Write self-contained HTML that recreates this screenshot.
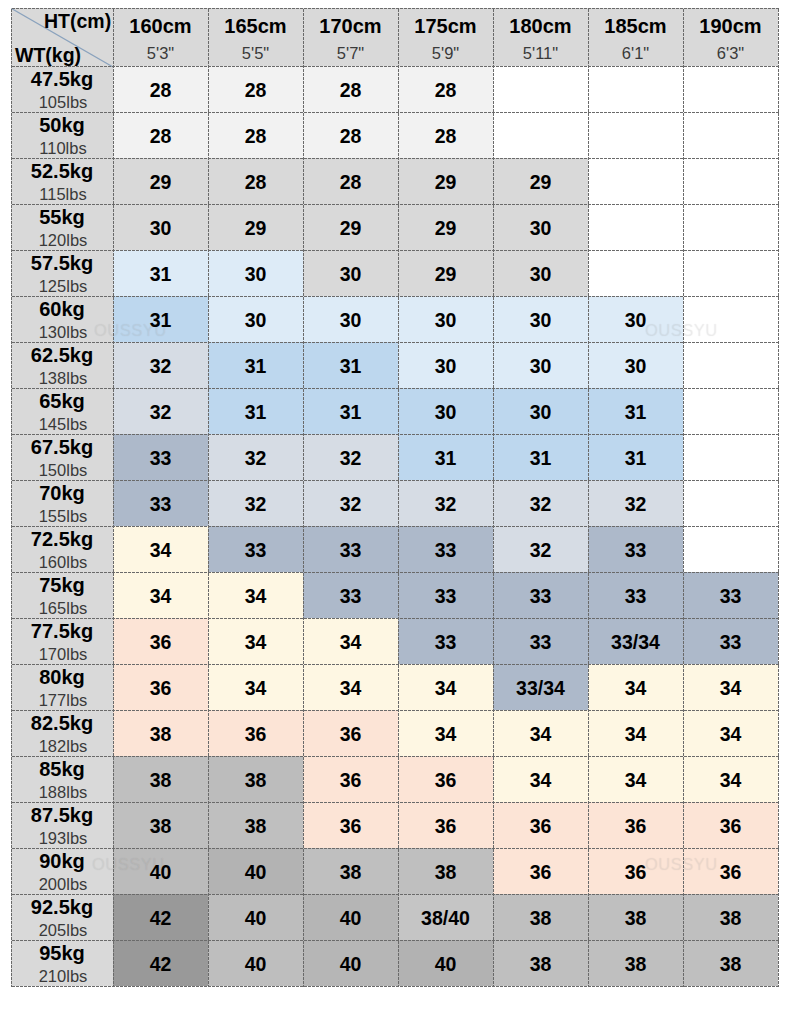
<!DOCTYPE html>
<html><head><meta charset="utf-8">
<style>
html,body{margin:0;padding:0;background:#fff;}
body{width:790px;height:1009px;position:relative;overflow:hidden;font-family:"Liberation Sans",sans-serif;color:#000;}
.c{position:absolute;}
.t{position:absolute;left:0;right:0;text-align:center;white-space:nowrap;}
.n{font-weight:bold;font-size:19.5px;}
.hd{font-weight:bold;font-size:20px;}
.sb{font-size:16.5px;color:#3a3a3a;}
.h{position:absolute;height:1px;background-image:linear-gradient(to right,#6a6a6a 3px,transparent 3px);background-size:4px 1px;background-repeat:repeat-x;}
.v{position:absolute;width:1px;background-image:linear-gradient(to bottom,#6a6a6a 3px,transparent 3px);background-size:1px 4px;background-repeat:repeat-y;}
.wm{position:absolute;font-size:16.5px;color:rgba(255,255,255,0.12);letter-spacing:0.5px;text-shadow:0 0 1px rgba(0,0,0,0.10);}
</style></head><body>

<div class="c" style="left:11px;top:8px;width:767px;height:58px;background:#d9d9d9"></div>
<div class="c" style="left:11px;top:8px;width:102px;height:978px;background:#d9d9d9"></div>
<div class="c" style="left:113px;top:66px;width:95px;height:46px;background:#f2f2f2"></div>
<div class="c" style="left:208px;top:66px;width:95px;height:46px;background:#f2f2f2"></div>
<div class="c" style="left:303px;top:66px;width:95px;height:46px;background:#f2f2f2"></div>
<div class="c" style="left:398px;top:66px;width:95px;height:46px;background:#f2f2f2"></div>
<div class="c" style="left:493px;top:66px;width:95px;height:46px;background:#ffffff"></div>
<div class="c" style="left:588px;top:66px;width:95px;height:46px;background:#ffffff"></div>
<div class="c" style="left:683px;top:66px;width:95px;height:46px;background:#ffffff"></div>
<div class="c" style="left:113px;top:112px;width:95px;height:46px;background:#f2f2f2"></div>
<div class="c" style="left:208px;top:112px;width:95px;height:46px;background:#f2f2f2"></div>
<div class="c" style="left:303px;top:112px;width:95px;height:46px;background:#f2f2f2"></div>
<div class="c" style="left:398px;top:112px;width:95px;height:46px;background:#f2f2f2"></div>
<div class="c" style="left:493px;top:112px;width:95px;height:46px;background:#ffffff"></div>
<div class="c" style="left:588px;top:112px;width:95px;height:46px;background:#ffffff"></div>
<div class="c" style="left:683px;top:112px;width:95px;height:46px;background:#ffffff"></div>
<div class="c" style="left:113px;top:158px;width:95px;height:46px;background:#d9d9d9"></div>
<div class="c" style="left:208px;top:158px;width:95px;height:46px;background:#d9d9d9"></div>
<div class="c" style="left:303px;top:158px;width:95px;height:46px;background:#d9d9d9"></div>
<div class="c" style="left:398px;top:158px;width:95px;height:46px;background:#d9d9d9"></div>
<div class="c" style="left:493px;top:158px;width:95px;height:46px;background:#d9d9d9"></div>
<div class="c" style="left:588px;top:158px;width:95px;height:46px;background:#ffffff"></div>
<div class="c" style="left:683px;top:158px;width:95px;height:46px;background:#ffffff"></div>
<div class="c" style="left:113px;top:204px;width:95px;height:46px;background:#d9d9d9"></div>
<div class="c" style="left:208px;top:204px;width:95px;height:46px;background:#d9d9d9"></div>
<div class="c" style="left:303px;top:204px;width:95px;height:46px;background:#d9d9d9"></div>
<div class="c" style="left:398px;top:204px;width:95px;height:46px;background:#d9d9d9"></div>
<div class="c" style="left:493px;top:204px;width:95px;height:46px;background:#d9d9d9"></div>
<div class="c" style="left:588px;top:204px;width:95px;height:46px;background:#ffffff"></div>
<div class="c" style="left:683px;top:204px;width:95px;height:46px;background:#ffffff"></div>
<div class="c" style="left:113px;top:250px;width:95px;height:46px;background:#ddebf7"></div>
<div class="c" style="left:208px;top:250px;width:95px;height:46px;background:#ddebf7"></div>
<div class="c" style="left:303px;top:250px;width:95px;height:46px;background:#d9d9d9"></div>
<div class="c" style="left:398px;top:250px;width:95px;height:46px;background:#d9d9d9"></div>
<div class="c" style="left:493px;top:250px;width:95px;height:46px;background:#d9d9d9"></div>
<div class="c" style="left:588px;top:250px;width:95px;height:46px;background:#ffffff"></div>
<div class="c" style="left:683px;top:250px;width:95px;height:46px;background:#ffffff"></div>
<div class="c" style="left:113px;top:296px;width:95px;height:46px;background:#bdd7ee"></div>
<div class="c" style="left:208px;top:296px;width:95px;height:46px;background:#ddebf7"></div>
<div class="c" style="left:303px;top:296px;width:95px;height:46px;background:#ddebf7"></div>
<div class="c" style="left:398px;top:296px;width:95px;height:46px;background:#ddebf7"></div>
<div class="c" style="left:493px;top:296px;width:95px;height:46px;background:#ddebf7"></div>
<div class="c" style="left:588px;top:296px;width:95px;height:46px;background:#ddebf7"></div>
<div class="c" style="left:683px;top:296px;width:95px;height:46px;background:#ffffff"></div>
<div class="c" style="left:113px;top:342px;width:95px;height:46px;background:#d6dce4"></div>
<div class="c" style="left:208px;top:342px;width:95px;height:46px;background:#bdd7ee"></div>
<div class="c" style="left:303px;top:342px;width:95px;height:46px;background:#bdd7ee"></div>
<div class="c" style="left:398px;top:342px;width:95px;height:46px;background:#ddebf7"></div>
<div class="c" style="left:493px;top:342px;width:95px;height:46px;background:#ddebf7"></div>
<div class="c" style="left:588px;top:342px;width:95px;height:46px;background:#ddebf7"></div>
<div class="c" style="left:683px;top:342px;width:95px;height:46px;background:#ffffff"></div>
<div class="c" style="left:113px;top:388px;width:95px;height:46px;background:#d6dce4"></div>
<div class="c" style="left:208px;top:388px;width:95px;height:46px;background:#bdd7ee"></div>
<div class="c" style="left:303px;top:388px;width:95px;height:46px;background:#bdd7ee"></div>
<div class="c" style="left:398px;top:388px;width:95px;height:46px;background:#bdd7ee"></div>
<div class="c" style="left:493px;top:388px;width:95px;height:46px;background:#bdd7ee"></div>
<div class="c" style="left:588px;top:388px;width:95px;height:46px;background:#bdd7ee"></div>
<div class="c" style="left:683px;top:388px;width:95px;height:46px;background:#ffffff"></div>
<div class="c" style="left:113px;top:434px;width:95px;height:46px;background:#adb9ca"></div>
<div class="c" style="left:208px;top:434px;width:95px;height:46px;background:#d6dce4"></div>
<div class="c" style="left:303px;top:434px;width:95px;height:46px;background:#d6dce4"></div>
<div class="c" style="left:398px;top:434px;width:95px;height:46px;background:#bdd7ee"></div>
<div class="c" style="left:493px;top:434px;width:95px;height:46px;background:#bdd7ee"></div>
<div class="c" style="left:588px;top:434px;width:95px;height:46px;background:#bdd7ee"></div>
<div class="c" style="left:683px;top:434px;width:95px;height:46px;background:#ffffff"></div>
<div class="c" style="left:113px;top:480px;width:95px;height:46px;background:#adb9ca"></div>
<div class="c" style="left:208px;top:480px;width:95px;height:46px;background:#d6dce4"></div>
<div class="c" style="left:303px;top:480px;width:95px;height:46px;background:#d6dce4"></div>
<div class="c" style="left:398px;top:480px;width:95px;height:46px;background:#d6dce4"></div>
<div class="c" style="left:493px;top:480px;width:95px;height:46px;background:#d6dce4"></div>
<div class="c" style="left:588px;top:480px;width:95px;height:46px;background:#d6dce4"></div>
<div class="c" style="left:683px;top:480px;width:95px;height:46px;background:#ffffff"></div>
<div class="c" style="left:113px;top:526px;width:95px;height:46px;background:#fef7e3"></div>
<div class="c" style="left:208px;top:526px;width:95px;height:46px;background:#adb9ca"></div>
<div class="c" style="left:303px;top:526px;width:95px;height:46px;background:#adb9ca"></div>
<div class="c" style="left:398px;top:526px;width:95px;height:46px;background:#adb9ca"></div>
<div class="c" style="left:493px;top:526px;width:95px;height:46px;background:#d6dce4"></div>
<div class="c" style="left:588px;top:526px;width:95px;height:46px;background:#adb9ca"></div>
<div class="c" style="left:683px;top:526px;width:95px;height:46px;background:#ffffff"></div>
<div class="c" style="left:113px;top:572px;width:95px;height:46px;background:#fef7e3"></div>
<div class="c" style="left:208px;top:572px;width:95px;height:46px;background:#fef7e3"></div>
<div class="c" style="left:303px;top:572px;width:95px;height:46px;background:#adb9ca"></div>
<div class="c" style="left:398px;top:572px;width:95px;height:46px;background:#adb9ca"></div>
<div class="c" style="left:493px;top:572px;width:95px;height:46px;background:#adb9ca"></div>
<div class="c" style="left:588px;top:572px;width:95px;height:46px;background:#adb9ca"></div>
<div class="c" style="left:683px;top:572px;width:95px;height:46px;background:#adb9ca"></div>
<div class="c" style="left:113px;top:618px;width:95px;height:46px;background:#fce4d6"></div>
<div class="c" style="left:208px;top:618px;width:95px;height:46px;background:#fef7e3"></div>
<div class="c" style="left:303px;top:618px;width:95px;height:46px;background:#fef7e3"></div>
<div class="c" style="left:398px;top:618px;width:95px;height:46px;background:#adb9ca"></div>
<div class="c" style="left:493px;top:618px;width:95px;height:46px;background:#adb9ca"></div>
<div class="c" style="left:588px;top:618px;width:95px;height:46px;background:#adb9ca"></div>
<div class="c" style="left:683px;top:618px;width:95px;height:46px;background:#adb9ca"></div>
<div class="c" style="left:113px;top:664px;width:95px;height:46px;background:#fce4d6"></div>
<div class="c" style="left:208px;top:664px;width:95px;height:46px;background:#fef7e3"></div>
<div class="c" style="left:303px;top:664px;width:95px;height:46px;background:#fef7e3"></div>
<div class="c" style="left:398px;top:664px;width:95px;height:46px;background:#fef7e3"></div>
<div class="c" style="left:493px;top:664px;width:95px;height:46px;background:#adb9ca"></div>
<div class="c" style="left:588px;top:664px;width:95px;height:46px;background:#fef7e3"></div>
<div class="c" style="left:683px;top:664px;width:95px;height:46px;background:#fef7e3"></div>
<div class="c" style="left:113px;top:710px;width:95px;height:46px;background:#fce4d6"></div>
<div class="c" style="left:208px;top:710px;width:95px;height:46px;background:#fce4d6"></div>
<div class="c" style="left:303px;top:710px;width:95px;height:46px;background:#fce4d6"></div>
<div class="c" style="left:398px;top:710px;width:95px;height:46px;background:#fef7e3"></div>
<div class="c" style="left:493px;top:710px;width:95px;height:46px;background:#fef7e3"></div>
<div class="c" style="left:588px;top:710px;width:95px;height:46px;background:#fef7e3"></div>
<div class="c" style="left:683px;top:710px;width:95px;height:46px;background:#fef7e3"></div>
<div class="c" style="left:113px;top:756px;width:95px;height:46px;background:#bfbfbf"></div>
<div class="c" style="left:208px;top:756px;width:95px;height:46px;background:#bcbcbc"></div>
<div class="c" style="left:303px;top:756px;width:95px;height:46px;background:#fce4d6"></div>
<div class="c" style="left:398px;top:756px;width:95px;height:46px;background:#fce4d6"></div>
<div class="c" style="left:493px;top:756px;width:95px;height:46px;background:#fef7e3"></div>
<div class="c" style="left:588px;top:756px;width:95px;height:46px;background:#fef7e3"></div>
<div class="c" style="left:683px;top:756px;width:95px;height:46px;background:#fef7e3"></div>
<div class="c" style="left:113px;top:802px;width:95px;height:46px;background:#bfbfbf"></div>
<div class="c" style="left:208px;top:802px;width:95px;height:46px;background:#bfbfbf"></div>
<div class="c" style="left:303px;top:802px;width:95px;height:46px;background:#fce4d6"></div>
<div class="c" style="left:398px;top:802px;width:95px;height:46px;background:#fce4d6"></div>
<div class="c" style="left:493px;top:802px;width:95px;height:46px;background:#fce4d6"></div>
<div class="c" style="left:588px;top:802px;width:95px;height:46px;background:#fce4d6"></div>
<div class="c" style="left:683px;top:802px;width:95px;height:46px;background:#fce4d6"></div>
<div class="c" style="left:113px;top:848px;width:95px;height:46px;background:#bbbbbb"></div>
<div class="c" style="left:208px;top:848px;width:95px;height:46px;background:#b3b3b3"></div>
<div class="c" style="left:303px;top:848px;width:95px;height:46px;background:#bfbfbf"></div>
<div class="c" style="left:398px;top:848px;width:95px;height:46px;background:#bfbfbf"></div>
<div class="c" style="left:493px;top:848px;width:95px;height:46px;background:#fce4d6"></div>
<div class="c" style="left:588px;top:848px;width:95px;height:46px;background:#fce4d6"></div>
<div class="c" style="left:683px;top:848px;width:95px;height:46px;background:#fce4d6"></div>
<div class="c" style="left:113px;top:894px;width:95px;height:46px;background:#999999"></div>
<div class="c" style="left:208px;top:894px;width:95px;height:46px;background:#bdbdbd"></div>
<div class="c" style="left:303px;top:894px;width:95px;height:46px;background:#b5b5b5"></div>
<div class="c" style="left:398px;top:894px;width:95px;height:46px;background:#c5c5c5"></div>
<div class="c" style="left:493px;top:894px;width:95px;height:46px;background:#bfbfbf"></div>
<div class="c" style="left:588px;top:894px;width:95px;height:46px;background:#bfbfbf"></div>
<div class="c" style="left:683px;top:894px;width:95px;height:46px;background:#bfbfbf"></div>
<div class="c" style="left:113px;top:940px;width:95px;height:46px;background:#999999"></div>
<div class="c" style="left:208px;top:940px;width:95px;height:46px;background:#bebebe"></div>
<div class="c" style="left:303px;top:940px;width:95px;height:46px;background:#b6b6b6"></div>
<div class="c" style="left:398px;top:940px;width:95px;height:46px;background:#b2b2b2"></div>
<div class="c" style="left:493px;top:940px;width:95px;height:46px;background:#bfbfbf"></div>
<div class="c" style="left:588px;top:940px;width:95px;height:46px;background:#bfbfbf"></div>
<div class="c" style="left:683px;top:940px;width:95px;height:46px;background:#bfbfbf"></div>
<svg class="c" style="left:0;top:0" width="790" height="1009"><line x1="11.5" y1="8.5" x2="113" y2="67" stroke="#8aa2bd" stroke-width="1.4"/></svg>
<div class="c" style="left:113px;top:8px;width:95px;height:58px"><div class="t hd" style="top:7px">160cm</div><div class="t sb" style="top:36px">5'3&quot;</div></div>
<div class="c" style="left:208px;top:8px;width:95px;height:58px"><div class="t hd" style="top:7px">165cm</div><div class="t sb" style="top:36px">5'5&quot;</div></div>
<div class="c" style="left:303px;top:8px;width:95px;height:58px"><div class="t hd" style="top:7px">170cm</div><div class="t sb" style="top:36px">5'7&quot;</div></div>
<div class="c" style="left:398px;top:8px;width:95px;height:58px"><div class="t hd" style="top:7px">175cm</div><div class="t sb" style="top:36px">5'9&quot;</div></div>
<div class="c" style="left:493px;top:8px;width:95px;height:58px"><div class="t hd" style="top:7px">180cm</div><div class="t sb" style="top:36px">5'11&quot;</div></div>
<div class="c" style="left:588px;top:8px;width:95px;height:58px"><div class="t hd" style="top:7px">185cm</div><div class="t sb" style="top:36px">6'1&quot;</div></div>
<div class="c" style="left:683px;top:8px;width:95px;height:58px"><div class="t hd" style="top:7px">190cm</div><div class="t sb" style="top:36px">6'3&quot;</div></div>
<div class="c hd" style="left:44px;top:10px;font-size:19.5px">HT(cm)</div>
<div class="c hd" style="left:15px;top:44px;font-size:19.5px">WT(kg)</div>
<div class="wm" style="left:94px;top:321px">OUSSYU</div>
<div class="wm" style="left:645px;top:321px">OUSSYU</div>
<div class="wm" style="left:92px;top:855px">OUSSYU</div>
<div class="wm" style="left:645px;top:855px">OUSSYU</div>
<div class="c" style="left:11px;top:66px;width:102px;height:46px"><div class="t hd" style="top:2px">47.5kg</div><div class="t sb" style="top:27px;padding-left:2px">105lbs</div></div>
<div class="c" style="left:113px;top:66px;width:95px;height:46px"><div class="t n" style="top:13px">28</div></div>
<div class="c" style="left:208px;top:66px;width:95px;height:46px"><div class="t n" style="top:13px">28</div></div>
<div class="c" style="left:303px;top:66px;width:95px;height:46px"><div class="t n" style="top:13px">28</div></div>
<div class="c" style="left:398px;top:66px;width:95px;height:46px"><div class="t n" style="top:13px">28</div></div>
<div class="c" style="left:11px;top:112px;width:102px;height:46px"><div class="t hd" style="top:2px">50kg</div><div class="t sb" style="top:27px;padding-left:2px">110lbs</div></div>
<div class="c" style="left:113px;top:112px;width:95px;height:46px"><div class="t n" style="top:13px">28</div></div>
<div class="c" style="left:208px;top:112px;width:95px;height:46px"><div class="t n" style="top:13px">28</div></div>
<div class="c" style="left:303px;top:112px;width:95px;height:46px"><div class="t n" style="top:13px">28</div></div>
<div class="c" style="left:398px;top:112px;width:95px;height:46px"><div class="t n" style="top:13px">28</div></div>
<div class="c" style="left:11px;top:158px;width:102px;height:46px"><div class="t hd" style="top:2px">52.5kg</div><div class="t sb" style="top:27px;padding-left:2px">115lbs</div></div>
<div class="c" style="left:113px;top:158px;width:95px;height:46px"><div class="t n" style="top:13px">29</div></div>
<div class="c" style="left:208px;top:158px;width:95px;height:46px"><div class="t n" style="top:13px">28</div></div>
<div class="c" style="left:303px;top:158px;width:95px;height:46px"><div class="t n" style="top:13px">28</div></div>
<div class="c" style="left:398px;top:158px;width:95px;height:46px"><div class="t n" style="top:13px">29</div></div>
<div class="c" style="left:493px;top:158px;width:95px;height:46px"><div class="t n" style="top:13px">29</div></div>
<div class="c" style="left:11px;top:204px;width:102px;height:46px"><div class="t hd" style="top:2px">55kg</div><div class="t sb" style="top:27px;padding-left:2px">120lbs</div></div>
<div class="c" style="left:113px;top:204px;width:95px;height:46px"><div class="t n" style="top:13px">30</div></div>
<div class="c" style="left:208px;top:204px;width:95px;height:46px"><div class="t n" style="top:13px">29</div></div>
<div class="c" style="left:303px;top:204px;width:95px;height:46px"><div class="t n" style="top:13px">29</div></div>
<div class="c" style="left:398px;top:204px;width:95px;height:46px"><div class="t n" style="top:13px">29</div></div>
<div class="c" style="left:493px;top:204px;width:95px;height:46px"><div class="t n" style="top:13px">30</div></div>
<div class="c" style="left:11px;top:250px;width:102px;height:46px"><div class="t hd" style="top:2px">57.5kg</div><div class="t sb" style="top:27px;padding-left:2px">125lbs</div></div>
<div class="c" style="left:113px;top:250px;width:95px;height:46px"><div class="t n" style="top:13px">31</div></div>
<div class="c" style="left:208px;top:250px;width:95px;height:46px"><div class="t n" style="top:13px">30</div></div>
<div class="c" style="left:303px;top:250px;width:95px;height:46px"><div class="t n" style="top:13px">30</div></div>
<div class="c" style="left:398px;top:250px;width:95px;height:46px"><div class="t n" style="top:13px">29</div></div>
<div class="c" style="left:493px;top:250px;width:95px;height:46px"><div class="t n" style="top:13px">30</div></div>
<div class="c" style="left:11px;top:296px;width:102px;height:46px"><div class="t hd" style="top:2px">60kg</div><div class="t sb" style="top:27px;padding-left:2px">130lbs</div></div>
<div class="c" style="left:113px;top:296px;width:95px;height:46px"><div class="t n" style="top:13px">31</div></div>
<div class="c" style="left:208px;top:296px;width:95px;height:46px"><div class="t n" style="top:13px">30</div></div>
<div class="c" style="left:303px;top:296px;width:95px;height:46px"><div class="t n" style="top:13px">30</div></div>
<div class="c" style="left:398px;top:296px;width:95px;height:46px"><div class="t n" style="top:13px">30</div></div>
<div class="c" style="left:493px;top:296px;width:95px;height:46px"><div class="t n" style="top:13px">30</div></div>
<div class="c" style="left:588px;top:296px;width:95px;height:46px"><div class="t n" style="top:13px">30</div></div>
<div class="c" style="left:11px;top:342px;width:102px;height:46px"><div class="t hd" style="top:2px">62.5kg</div><div class="t sb" style="top:27px;padding-left:2px">138lbs</div></div>
<div class="c" style="left:113px;top:342px;width:95px;height:46px"><div class="t n" style="top:13px">32</div></div>
<div class="c" style="left:208px;top:342px;width:95px;height:46px"><div class="t n" style="top:13px">31</div></div>
<div class="c" style="left:303px;top:342px;width:95px;height:46px"><div class="t n" style="top:13px">31</div></div>
<div class="c" style="left:398px;top:342px;width:95px;height:46px"><div class="t n" style="top:13px">30</div></div>
<div class="c" style="left:493px;top:342px;width:95px;height:46px"><div class="t n" style="top:13px">30</div></div>
<div class="c" style="left:588px;top:342px;width:95px;height:46px"><div class="t n" style="top:13px">30</div></div>
<div class="c" style="left:11px;top:388px;width:102px;height:46px"><div class="t hd" style="top:2px">65kg</div><div class="t sb" style="top:27px;padding-left:2px">145lbs</div></div>
<div class="c" style="left:113px;top:388px;width:95px;height:46px"><div class="t n" style="top:13px">32</div></div>
<div class="c" style="left:208px;top:388px;width:95px;height:46px"><div class="t n" style="top:13px">31</div></div>
<div class="c" style="left:303px;top:388px;width:95px;height:46px"><div class="t n" style="top:13px">31</div></div>
<div class="c" style="left:398px;top:388px;width:95px;height:46px"><div class="t n" style="top:13px">30</div></div>
<div class="c" style="left:493px;top:388px;width:95px;height:46px"><div class="t n" style="top:13px">30</div></div>
<div class="c" style="left:588px;top:388px;width:95px;height:46px"><div class="t n" style="top:13px">31</div></div>
<div class="c" style="left:11px;top:434px;width:102px;height:46px"><div class="t hd" style="top:2px">67.5kg</div><div class="t sb" style="top:27px;padding-left:2px">150lbs</div></div>
<div class="c" style="left:113px;top:434px;width:95px;height:46px"><div class="t n" style="top:13px">33</div></div>
<div class="c" style="left:208px;top:434px;width:95px;height:46px"><div class="t n" style="top:13px">32</div></div>
<div class="c" style="left:303px;top:434px;width:95px;height:46px"><div class="t n" style="top:13px">32</div></div>
<div class="c" style="left:398px;top:434px;width:95px;height:46px"><div class="t n" style="top:13px">31</div></div>
<div class="c" style="left:493px;top:434px;width:95px;height:46px"><div class="t n" style="top:13px">31</div></div>
<div class="c" style="left:588px;top:434px;width:95px;height:46px"><div class="t n" style="top:13px">31</div></div>
<div class="c" style="left:11px;top:480px;width:102px;height:46px"><div class="t hd" style="top:2px">70kg</div><div class="t sb" style="top:27px;padding-left:2px">155lbs</div></div>
<div class="c" style="left:113px;top:480px;width:95px;height:46px"><div class="t n" style="top:13px">33</div></div>
<div class="c" style="left:208px;top:480px;width:95px;height:46px"><div class="t n" style="top:13px">32</div></div>
<div class="c" style="left:303px;top:480px;width:95px;height:46px"><div class="t n" style="top:13px">32</div></div>
<div class="c" style="left:398px;top:480px;width:95px;height:46px"><div class="t n" style="top:13px">32</div></div>
<div class="c" style="left:493px;top:480px;width:95px;height:46px"><div class="t n" style="top:13px">32</div></div>
<div class="c" style="left:588px;top:480px;width:95px;height:46px"><div class="t n" style="top:13px">32</div></div>
<div class="c" style="left:11px;top:526px;width:102px;height:46px"><div class="t hd" style="top:2px">72.5kg</div><div class="t sb" style="top:27px;padding-left:2px">160lbs</div></div>
<div class="c" style="left:113px;top:526px;width:95px;height:46px"><div class="t n" style="top:13px">34</div></div>
<div class="c" style="left:208px;top:526px;width:95px;height:46px"><div class="t n" style="top:13px">33</div></div>
<div class="c" style="left:303px;top:526px;width:95px;height:46px"><div class="t n" style="top:13px">33</div></div>
<div class="c" style="left:398px;top:526px;width:95px;height:46px"><div class="t n" style="top:13px">33</div></div>
<div class="c" style="left:493px;top:526px;width:95px;height:46px"><div class="t n" style="top:13px">32</div></div>
<div class="c" style="left:588px;top:526px;width:95px;height:46px"><div class="t n" style="top:13px">33</div></div>
<div class="c" style="left:11px;top:572px;width:102px;height:46px"><div class="t hd" style="top:2px">75kg</div><div class="t sb" style="top:27px;padding-left:2px">165lbs</div></div>
<div class="c" style="left:113px;top:572px;width:95px;height:46px"><div class="t n" style="top:13px">34</div></div>
<div class="c" style="left:208px;top:572px;width:95px;height:46px"><div class="t n" style="top:13px">34</div></div>
<div class="c" style="left:303px;top:572px;width:95px;height:46px"><div class="t n" style="top:13px">33</div></div>
<div class="c" style="left:398px;top:572px;width:95px;height:46px"><div class="t n" style="top:13px">33</div></div>
<div class="c" style="left:493px;top:572px;width:95px;height:46px"><div class="t n" style="top:13px">33</div></div>
<div class="c" style="left:588px;top:572px;width:95px;height:46px"><div class="t n" style="top:13px">33</div></div>
<div class="c" style="left:683px;top:572px;width:95px;height:46px"><div class="t n" style="top:13px">33</div></div>
<div class="c" style="left:11px;top:618px;width:102px;height:46px"><div class="t hd" style="top:2px">77.5kg</div><div class="t sb" style="top:27px;padding-left:2px">170lbs</div></div>
<div class="c" style="left:113px;top:618px;width:95px;height:46px"><div class="t n" style="top:13px">36</div></div>
<div class="c" style="left:208px;top:618px;width:95px;height:46px"><div class="t n" style="top:13px">34</div></div>
<div class="c" style="left:303px;top:618px;width:95px;height:46px"><div class="t n" style="top:13px">34</div></div>
<div class="c" style="left:398px;top:618px;width:95px;height:46px"><div class="t n" style="top:13px">33</div></div>
<div class="c" style="left:493px;top:618px;width:95px;height:46px"><div class="t n" style="top:13px">33</div></div>
<div class="c" style="left:588px;top:618px;width:95px;height:46px"><div class="t n" style="top:13px">33/34</div></div>
<div class="c" style="left:683px;top:618px;width:95px;height:46px"><div class="t n" style="top:13px">33</div></div>
<div class="c" style="left:11px;top:664px;width:102px;height:46px"><div class="t hd" style="top:2px">80kg</div><div class="t sb" style="top:27px;padding-left:2px">177lbs</div></div>
<div class="c" style="left:113px;top:664px;width:95px;height:46px"><div class="t n" style="top:13px">36</div></div>
<div class="c" style="left:208px;top:664px;width:95px;height:46px"><div class="t n" style="top:13px">34</div></div>
<div class="c" style="left:303px;top:664px;width:95px;height:46px"><div class="t n" style="top:13px">34</div></div>
<div class="c" style="left:398px;top:664px;width:95px;height:46px"><div class="t n" style="top:13px">34</div></div>
<div class="c" style="left:493px;top:664px;width:95px;height:46px"><div class="t n" style="top:13px">33/34</div></div>
<div class="c" style="left:588px;top:664px;width:95px;height:46px"><div class="t n" style="top:13px">34</div></div>
<div class="c" style="left:683px;top:664px;width:95px;height:46px"><div class="t n" style="top:13px">34</div></div>
<div class="c" style="left:11px;top:710px;width:102px;height:46px"><div class="t hd" style="top:2px">82.5kg</div><div class="t sb" style="top:27px;padding-left:2px">182lbs</div></div>
<div class="c" style="left:113px;top:710px;width:95px;height:46px"><div class="t n" style="top:13px">38</div></div>
<div class="c" style="left:208px;top:710px;width:95px;height:46px"><div class="t n" style="top:13px">36</div></div>
<div class="c" style="left:303px;top:710px;width:95px;height:46px"><div class="t n" style="top:13px">36</div></div>
<div class="c" style="left:398px;top:710px;width:95px;height:46px"><div class="t n" style="top:13px">34</div></div>
<div class="c" style="left:493px;top:710px;width:95px;height:46px"><div class="t n" style="top:13px">34</div></div>
<div class="c" style="left:588px;top:710px;width:95px;height:46px"><div class="t n" style="top:13px">34</div></div>
<div class="c" style="left:683px;top:710px;width:95px;height:46px"><div class="t n" style="top:13px">34</div></div>
<div class="c" style="left:11px;top:756px;width:102px;height:46px"><div class="t hd" style="top:2px">85kg</div><div class="t sb" style="top:27px;padding-left:2px">188lbs</div></div>
<div class="c" style="left:113px;top:756px;width:95px;height:46px"><div class="t n" style="top:13px">38</div></div>
<div class="c" style="left:208px;top:756px;width:95px;height:46px"><div class="t n" style="top:13px">38</div></div>
<div class="c" style="left:303px;top:756px;width:95px;height:46px"><div class="t n" style="top:13px">36</div></div>
<div class="c" style="left:398px;top:756px;width:95px;height:46px"><div class="t n" style="top:13px">36</div></div>
<div class="c" style="left:493px;top:756px;width:95px;height:46px"><div class="t n" style="top:13px">34</div></div>
<div class="c" style="left:588px;top:756px;width:95px;height:46px"><div class="t n" style="top:13px">34</div></div>
<div class="c" style="left:683px;top:756px;width:95px;height:46px"><div class="t n" style="top:13px">34</div></div>
<div class="c" style="left:11px;top:802px;width:102px;height:46px"><div class="t hd" style="top:2px">87.5kg</div><div class="t sb" style="top:27px;padding-left:2px">193lbs</div></div>
<div class="c" style="left:113px;top:802px;width:95px;height:46px"><div class="t n" style="top:13px">38</div></div>
<div class="c" style="left:208px;top:802px;width:95px;height:46px"><div class="t n" style="top:13px">38</div></div>
<div class="c" style="left:303px;top:802px;width:95px;height:46px"><div class="t n" style="top:13px">36</div></div>
<div class="c" style="left:398px;top:802px;width:95px;height:46px"><div class="t n" style="top:13px">36</div></div>
<div class="c" style="left:493px;top:802px;width:95px;height:46px"><div class="t n" style="top:13px">36</div></div>
<div class="c" style="left:588px;top:802px;width:95px;height:46px"><div class="t n" style="top:13px">36</div></div>
<div class="c" style="left:683px;top:802px;width:95px;height:46px"><div class="t n" style="top:13px">36</div></div>
<div class="c" style="left:11px;top:848px;width:102px;height:46px"><div class="t hd" style="top:2px">90kg</div><div class="t sb" style="top:27px;padding-left:2px">200lbs</div></div>
<div class="c" style="left:113px;top:848px;width:95px;height:46px"><div class="t n" style="top:13px">40</div></div>
<div class="c" style="left:208px;top:848px;width:95px;height:46px"><div class="t n" style="top:13px">40</div></div>
<div class="c" style="left:303px;top:848px;width:95px;height:46px"><div class="t n" style="top:13px">38</div></div>
<div class="c" style="left:398px;top:848px;width:95px;height:46px"><div class="t n" style="top:13px">38</div></div>
<div class="c" style="left:493px;top:848px;width:95px;height:46px"><div class="t n" style="top:13px">36</div></div>
<div class="c" style="left:588px;top:848px;width:95px;height:46px"><div class="t n" style="top:13px">36</div></div>
<div class="c" style="left:683px;top:848px;width:95px;height:46px"><div class="t n" style="top:13px">36</div></div>
<div class="c" style="left:11px;top:894px;width:102px;height:46px"><div class="t hd" style="top:2px">92.5kg</div><div class="t sb" style="top:27px;padding-left:2px">205lbs</div></div>
<div class="c" style="left:113px;top:894px;width:95px;height:46px"><div class="t n" style="top:13px">42</div></div>
<div class="c" style="left:208px;top:894px;width:95px;height:46px"><div class="t n" style="top:13px">40</div></div>
<div class="c" style="left:303px;top:894px;width:95px;height:46px"><div class="t n" style="top:13px">40</div></div>
<div class="c" style="left:398px;top:894px;width:95px;height:46px"><div class="t n" style="top:13px">38/40</div></div>
<div class="c" style="left:493px;top:894px;width:95px;height:46px"><div class="t n" style="top:13px">38</div></div>
<div class="c" style="left:588px;top:894px;width:95px;height:46px"><div class="t n" style="top:13px">38</div></div>
<div class="c" style="left:683px;top:894px;width:95px;height:46px"><div class="t n" style="top:13px">38</div></div>
<div class="c" style="left:11px;top:940px;width:102px;height:46px"><div class="t hd" style="top:2px">95kg</div><div class="t sb" style="top:27px;padding-left:2px">210lbs</div></div>
<div class="c" style="left:113px;top:940px;width:95px;height:46px"><div class="t n" style="top:13px">42</div></div>
<div class="c" style="left:208px;top:940px;width:95px;height:46px"><div class="t n" style="top:13px">40</div></div>
<div class="c" style="left:303px;top:940px;width:95px;height:46px"><div class="t n" style="top:13px">40</div></div>
<div class="c" style="left:398px;top:940px;width:95px;height:46px"><div class="t n" style="top:13px">40</div></div>
<div class="c" style="left:493px;top:940px;width:95px;height:46px"><div class="t n" style="top:13px">38</div></div>
<div class="c" style="left:588px;top:940px;width:95px;height:46px"><div class="t n" style="top:13px">38</div></div>
<div class="c" style="left:683px;top:940px;width:95px;height:46px"><div class="t n" style="top:13px">38</div></div>
<div class="h" style="left:11px;top:8px;width:768px;background-position:-3px 0"></div>
<div class="h" style="left:11px;top:66px;width:768px;background-position:-3px 0"></div>
<div class="h" style="left:11px;top:112px;width:768px;background-position:-3px 0"></div>
<div class="h" style="left:11px;top:158px;width:768px;background-position:-3px 0"></div>
<div class="h" style="left:11px;top:204px;width:768px;background-position:-3px 0"></div>
<div class="h" style="left:11px;top:250px;width:768px;background-position:-3px 0"></div>
<div class="h" style="left:11px;top:296px;width:768px;background-position:-3px 0"></div>
<div class="h" style="left:11px;top:342px;width:768px;background-position:-3px 0"></div>
<div class="h" style="left:11px;top:388px;width:768px;background-position:-3px 0"></div>
<div class="h" style="left:11px;top:434px;width:768px;background-position:-3px 0"></div>
<div class="h" style="left:11px;top:480px;width:768px;background-position:-3px 0"></div>
<div class="h" style="left:11px;top:526px;width:768px;background-position:-3px 0"></div>
<div class="h" style="left:11px;top:572px;width:768px;background-position:-3px 0"></div>
<div class="h" style="left:11px;top:618px;width:768px;background-position:-3px 0"></div>
<div class="h" style="left:11px;top:664px;width:768px;background-position:-3px 0"></div>
<div class="h" style="left:11px;top:710px;width:768px;background-position:-3px 0"></div>
<div class="h" style="left:11px;top:756px;width:768px;background-position:-3px 0"></div>
<div class="h" style="left:11px;top:802px;width:768px;background-position:-3px 0"></div>
<div class="h" style="left:11px;top:848px;width:768px;background-position:-3px 0"></div>
<div class="h" style="left:11px;top:894px;width:768px;background-position:-3px 0"></div>
<div class="h" style="left:11px;top:940px;width:768px;background-position:-3px 0"></div>
<div class="h" style="left:11px;top:986px;width:768px;background-position:-3px 0"></div>
<div class="v" style="left:11px;top:8px;height:979px;background-position:0 1px"></div>
<div class="v" style="left:113px;top:8px;height:979px;background-position:0 1px"></div>
<div class="v" style="left:208px;top:8px;height:979px;background-position:0 1px"></div>
<div class="v" style="left:303px;top:8px;height:979px;background-position:0 1px"></div>
<div class="v" style="left:398px;top:8px;height:979px;background-position:0 1px"></div>
<div class="v" style="left:493px;top:8px;height:979px;background-position:0 1px"></div>
<div class="v" style="left:588px;top:8px;height:979px;background-position:0 1px"></div>
<div class="v" style="left:683px;top:8px;height:979px;background-position:0 1px"></div>
<div class="v" style="left:778px;top:8px;height:979px;background-position:0 1px"></div>
</body></html>
